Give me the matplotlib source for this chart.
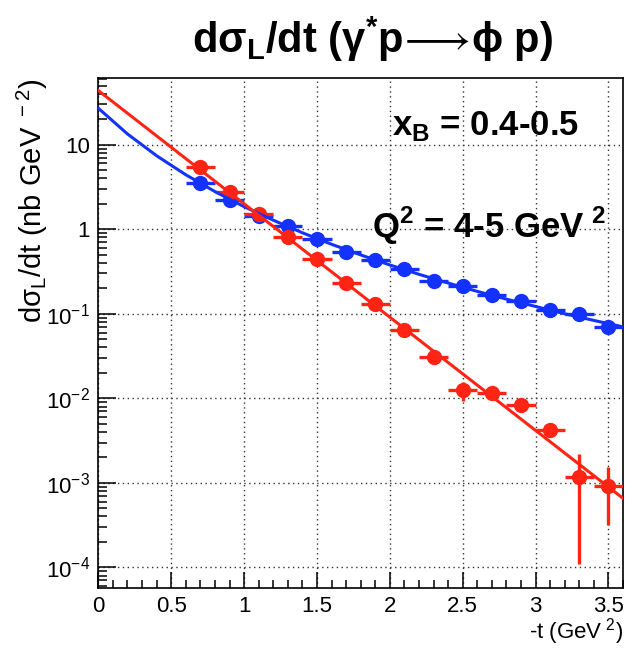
import numpy as np
import matplotlib.pyplot as plt
from matplotlib.ticker import FixedLocator, FuncFormatter, LogLocator, MultipleLocator

plt.rcParams['font.family'] = ['Liberation Sans', 'DejaVu Sans']
plt.rcParams['mathtext.fontset'] = 'custom'
plt.rcParams['mathtext.rm'] = 'Liberation Sans'
plt.rcParams['mathtext.bf'] = 'Liberation Sans:bold'
plt.rcParams['mathtext.fallback'] = 'stixsans'

# bin centres in -t (GeV^2), half bin width
t_bins = [0.7, 0.9, 1.1, 1.3, 1.5, 1.7, 1.9, 2.1, 2.3, 2.5, 2.7, 2.9, 3.1, 3.3, 3.5]
t_half = 0.1

# red points
red_vals = [5.4, 2.75, 1.5, 0.80, 0.44, 0.23, 0.13, 0.064, 0.031, 0.0124,
            0.0115, 0.0083, 0.0042, 0.00116, 0.00092]
red_errs = [0.35, 0.18, 0.09, 0.05, 0.025, 0.013, 0.008, 0.004, 0.002, 0.003,
            0.0012, 0.0009, 0.0006, 0.00105, 0.0006]

# blue points
blue_vals = [3.55, 2.2, 1.45, 1.08, 0.76, 0.54, 0.43, 0.34, 0.245, 0.215,
             0.165, 0.14, 0.112, 0.10, 0.069]
blue_errs = [0.15, 0.09, 0.06, 0.04, 0.03, 0.02, 0.016, 0.012, 0.009, 0.008,
             0.006, 0.005, 0.004, 0.004, 0.003]

# fit curves
red_fit_t = [0.0, 0.6, 1.2, 1.8, 2.4, 3.0, 3.6]
red_fit_y = [43.7, 6.85, 1.08, 0.169, 0.0265, 0.00417, 0.000655]
blue_fit_t = [0.0, 0.2, 0.4, 0.6, 0.8, 1.0, 1.2, 1.4, 1.6, 1.8, 2.0, 2.2,
              2.4, 2.6, 2.8, 3.0, 3.2, 3.4, 3.6]
blue_fit_y = [27.0, 13.4, 7.40, 4.41, 2.79, 1.85, 1.28, 0.908, 0.664, 0.497,
              0.378, 0.293, 0.231, 0.184, 0.149, 0.122, 0.100, 0.0834, 0.070]

red = '#ff2414'
blue = '#1432ff'

fig = plt.figure(figsize=(6.41, 6.57), dpi=100)
ax = fig.add_axes([0.1534, 0.105, 0.8186, 0.7767])

ax.set_yscale('log')
ax.set_xlim(0, 3.6)
ax.set_ylim(5.7e-5, 62)

ax.grid(True, which='major', linestyle=(0, (1, 2.5)), color='#333333', lw=1.0)
ax.set_axisbelow(True)

ax.errorbar(t_bins, blue_vals, xerr=t_half, yerr=blue_errs, fmt='o', ms=10,
            color=blue, elinewidth=2.4, capsize=0, zorder=3)
ax.errorbar(t_bins, red_vals, xerr=t_half, yerr=red_errs, fmt='o', ms=10,
            color=red, elinewidth=2.4, capsize=0, zorder=3)
ax.plot(blue_fit_t, blue_fit_y, color=blue, lw=2.2, zorder=4)
ax.plot(red_fit_t, red_fit_y, color=red, lw=2.2, zorder=4)

# ticks, ROOT style
ax.xaxis.set_major_locator(MultipleLocator(0.5))
ax.xaxis.set_minor_locator(MultipleLocator(0.1))
ax.xaxis.set_major_formatter(FuncFormatter(lambda v, p: '%g' % v))
ax.yaxis.set_major_locator(FixedLocator([1e-4, 1e-3, 1e-2, 1e-1, 1, 10]))
ax.yaxis.set_minor_locator(LogLocator(base=10, subs=np.arange(2, 10), numticks=100))


def ylab(v, p):
    e = int(round(np.log10(v)))
    if e == 0:
        return '1'
    if e == 1:
        return '10'
    return r'10$^{\mathregular{%d}}$' % e


ax.yaxis.set_major_formatter(FuncFormatter(ylab))
ax.yaxis.set_minor_formatter(FuncFormatter(lambda v, p: ''))
ax.tick_params(axis='x', which='major', direction='in', length=11.5, width=1.1, labelsize=16, pad=6)
ax.tick_params(axis='x', which='minor', direction='in', length=5.5, width=1.1)
ax.tick_params(axis='y', which='major', direction='in', length=13, width=1.1, labelsize=16, pad=6)
ax.tick_params(axis='y', which='minor', direction='in', length=6.5, width=1.1)
for s in ax.spines.values():
    s.set_linewidth(1.2)

fig.text(0.582, 0.919,
         'dσ$_{\\mathregular{L}}$/dt (γ$^{\\mathregular{*}}$p$\\!\\longrightarrow\\!$ϕ p)',
         ha='center', va='baseline', fontsize=30, fontweight='bold')
fig.text(0.972, 0.028, r'-t (GeV$^{\mathregular{\ 2}}$)', ha='right', va='baseline', fontsize=16)
fig.text(0.05, 0.695, 'dσ$_{\\mathregular{L}}$/dt (nb GeV$^{\\mathregular{\\ -2}}$)',
         rotation=90, ha='center', va='center', fontsize=21)

ax.text(0.56, 0.888, r'x$_{\mathregular{B}}$ = 0.4-0.5', transform=ax.transAxes,
        ha='left', va='baseline', fontsize=25, fontweight='bold')
ax.text(0.522, 0.686, r'Q$^{\mathregular{2}}$ = 4-5 GeV$^{\mathregular{\ 2}}$', transform=ax.transAxes,
        ha='left', va='baseline', fontsize=25, fontweight='bold')

fig.savefig('out.png', dpi=100)
